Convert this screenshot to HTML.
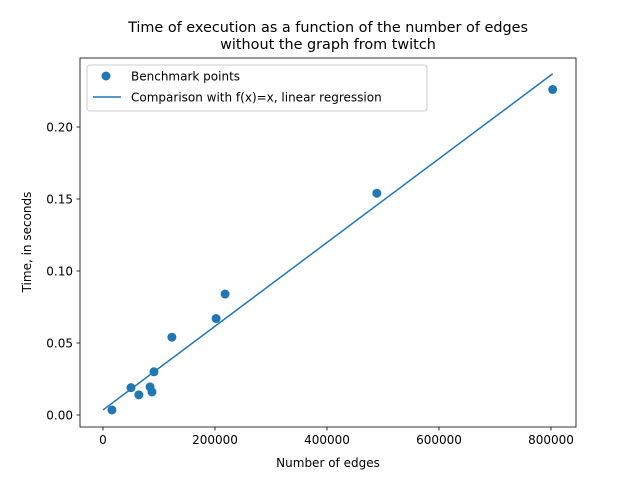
<!DOCTYPE html>
<html><head><meta charset="utf-8"><style>
body{margin:0;background:#fff;}
svg{font-family:"DejaVu Sans","Liberation Sans",sans-serif;}
</style></head><body>
<svg id="chart" width="640" height="480">
<text x="328" y="32" font-size="14.4" text-anchor="middle">Time of execution as a function of the number of edges</text>
<text x="328" y="49" font-size="14.4" text-anchor="middle">without the graph from twitch</text>
<g id="plot"></g>
<rect x="80" y="58" width="496" height="369" fill="none" stroke="#000" stroke-width="0.8"/>
<text x="328" y="467" font-size="12" text-anchor="middle">Number of edges</text>
<text transform="translate(31,242) rotate(-90)" font-size="12" text-anchor="middle">Time, in seconds</text>
<g>
<rect x="87" y="65" width="340" height="46" rx="3" fill="#fff" stroke="#ccc" stroke-width="1" fill-opacity="0.8"/>
<circle cx="106" cy="76" r="4.5" fill="#1f77b4"/>
<text x="131" y="80.5" font-size="12">Benchmark points</text>
<line x1="93" y1="97" x2="121" y2="97" stroke="#1f77b4" stroke-width="1.5"/>
<text x="131" y="101.5" font-size="12">Comparison with f(x)=x, linear regression</text>
</g>
</svg>
<script>
const xTicks=[0,200000,400000,600000,800000];
const yTicks=[0,0.05,0.10,0.15,0.20];
const edges=[16000,50000,64000,84000,87500,91000,123000,202000,218000,489000,803000];
const times=[0.0035,0.019,0.014,0.0195,0.016,0.030,0.054,0.067,0.084,0.154,0.226];
const lineX=[0,803000];
const lineY=[0.0035,0.237];
const X=v=>103+v*112/200000;
const Y=v=>415-v*1440;
const ns="http://www.w3.org/2000/svg";
const g=document.getElementById('plot');
function mk(t,a){const e=document.createElementNS(ns,t);for(const k in a)e.setAttribute(k,a[k]);g.appendChild(e);return e;}
xTicks.forEach(v=>{
 const l=mk('line',{x1:X(v),x2:X(v),y1:427,y2:430.5,stroke:'#000','stroke-width':0.8});
 
 
 const t=mk('text',{x:X(v),y:444,'font-size':12,'text-anchor':'middle'});t.textContent=String(v);
 
 
});
yTicks.forEach(v=>{
 const l=mk('line',{x1:76.5,x2:80,y1:Y(v),y2:Y(v),stroke:'#000','stroke-width':0.8});
 
 
 const t=mk('text',{x:73,y:Y(v)+4.5,'font-size':12,'text-anchor':'end'});t.textContent=v.toFixed(2);
 
 
});
const ln=mk('line',{x1:X(lineX[0]),y1:Y(lineY[0]),x2:X(lineX[1]),y2:Y(lineY[1]),stroke:'#1f77b4','stroke-width':1.5});


edges.forEach((e,i)=>{
 const c=mk('circle',{cx:X(e),cy:Y(times[i]),r:4.5,fill:'#1f77b4'});
 
 
});
</script>
</body></html>
